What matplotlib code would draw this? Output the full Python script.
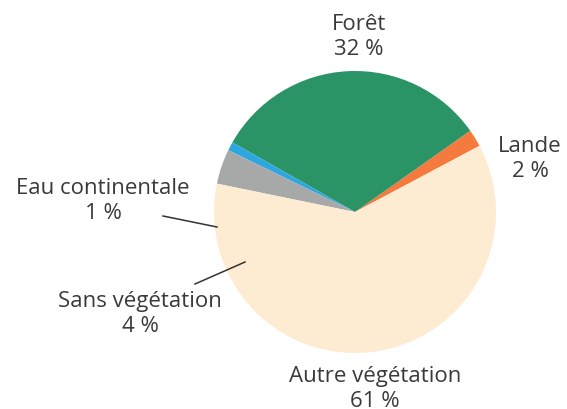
import matplotlib.pyplot as plt

# land cover shares (%)
labels = ['Lande', 'Forêt', 'Eau continentale', 'Sans végétation', 'Autre végétation']
values = [2, 32, 1, 4, 61]
colors = ['#f47a3e', '#2a9467', '#2ea7e0', '#a7a9a9', '#feecd2']

plt.rcParams['font.family'] = ['Open Sans', 'DejaVu Sans']

fig = plt.figure(figsize=(5.67, 4.10), dpi=100)
ax = fig.add_axes([0, 0, 1, 1])

# pie in pixel coordinates (y measured from the bottom)
ax.pie(values, colors=colors, startangle=28, counterclock=True,
       center=(355, 410 - 213), radius=141,
       wedgeprops=dict(linewidth=0))
ax.set_xlim(0, 567)
ax.set_ylim(0, 410)
ax.set_aspect('equal')
ax.axis('off')

txt = dict(ha='center', va='center', fontsize=16, color='#3a3a3a', linespacing=1.3)
pos = {
    'Forêt': (359, 410 - 37),
    'Lande': (530, 410 - 159),
    'Eau continentale': (103, 410 - 201),
    'Sans végétation': (140, 410 - 314),
    'Autre végétation': (375, 410 - 389),
}
for lab, v in zip(labels, values):
    x, y = pos[lab]
    ax.text(x, y, f'{lab}\n{v} %', **txt)

# leader lines for the small slices
ax.plot([163, 217], [410 - 217, 410 - 228], color='#333333', lw=1.1)
ax.plot([195, 245], [410 - 285, 410 - 263], color='#333333', lw=1.1)

fig.savefig('out.png', dpi=100)
